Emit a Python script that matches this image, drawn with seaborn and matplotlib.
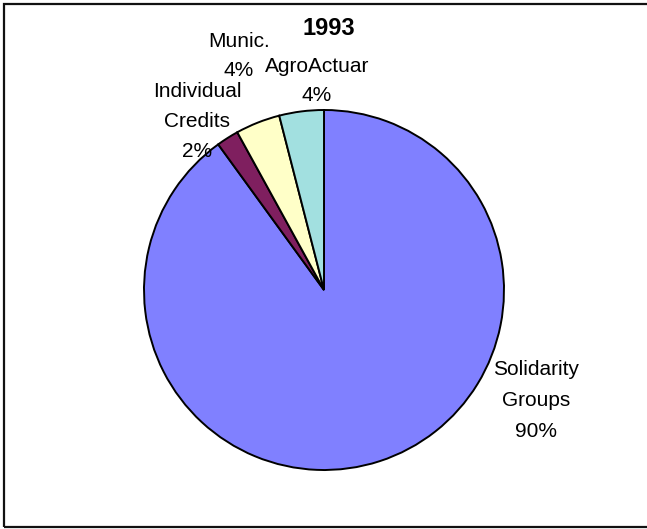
import matplotlib
matplotlib.use("Agg")
import matplotlib.pyplot as plt
from matplotlib.patches import Rectangle
import seaborn as sns

# Loan portfolio shares, 1993
categories = ["Solidarity Groups", "Individual Credits", "Munic.", "AgroActuar"]
shares = [90, 2, 4, 4]
slice_colors = ["#8080FF", "#7F1F5F", "#FFFFC8", "#A2E0E0"]
title = "1993"

sns.set_theme(style="white")
plt.rcParams["font.family"] = ["Liberation Sans", "DejaVu Sans"]

W, H = 647, 529          # figure size in pixels
CX, CY, R = 324, 290, 180  # pie centre and radius in pixels

fig = plt.figure(figsize=(W / 100, H / 100), dpi=100)
ax = fig.add_axes([0, 0, 1, 1])

palette = sns.color_palette(slice_colors)
wedges, _ = ax.pie(
    shares,
    colors=palette,
    startangle=90,
    counterclock=False,
    radius=1.0,
    center=(0, 0),
    wedgeprops=dict(edgecolor="black", linewidth=1.4),
)

# map the axes so one data unit equals the pie radius in pixels
ax.set_xlim(-CX / R, (W - CX) / R)
ax.set_ylim(-(H - CY) / R, CY / R)
ax.set_aspect("equal")
ax.axis("off")


def px(x, y):
    """Convert pixel position (from top-left) to data coordinates."""
    return (x - CX) / R, (CY - y) / R


def label(lines, x, baseline, step=30, size=15):
    for i, line in enumerate(lines):
        lx, ly = px(x, baseline + i * step)
        ax.text(lx, ly, line, ha="center", va="baseline",
                fontsize=size, color="black")


# slice labels: category name and its share
label(["Solidarity", "Groups", f"{shares[0]}%"], 536, 375, step=31)
label(["Individual", "Credits", f"{shares[1]}%"], 197, 97, step=30)
label(["Munic.", f"{shares[2]}%"], 239, 47, step=29)
label(["AgroActuar", f"{shares[3]}%"], 317, 72, step=29)

# title
tx, ty = px(329, 35)
ax.text(tx, ty, title, ha="center", va="baseline", fontsize=17,
        fontweight="bold", color="black")

# chart frame
fig.patches.append(Rectangle((4 / W, 2 / H), 1.05, (H - 6) / H,
                             transform=fig.transFigure, fill=False,
                             edgecolor="#111111", linewidth=1.6))

fig.savefig("out.png", dpi=100, facecolor="white")
